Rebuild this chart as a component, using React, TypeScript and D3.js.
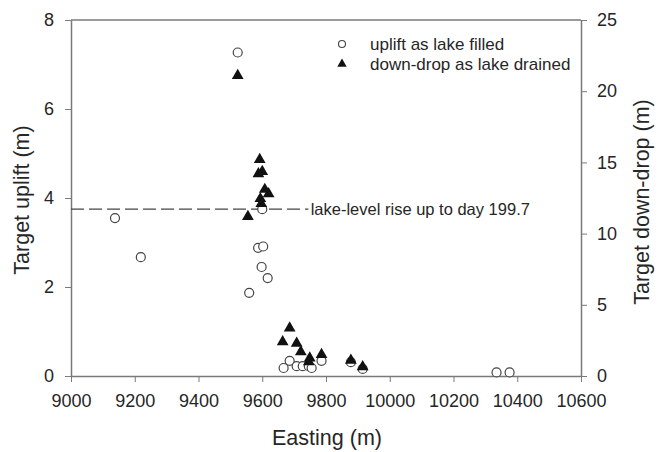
import React, { useEffect, useRef } from "react";
import * as d3 from "d3";

// easting (m) and uplift (m) for the open circles
const upliftEasting = [9138, 9219, 9523, 9600, 9587, 9603, 9598, 9617, 9559, 9667, 9686, 9708, 9727, 9746, 9755, 9786, 9878, 9915, 10335, 10376];
const upliftValue = [3.55, 2.67, 7.27, 3.75, 2.88, 2.91, 2.45, 2.2, 1.87, 0.18, 0.34, 0.22, 0.22, 0.22, 0.18, 0.34, 0.31, 0.16, 0.08, 0.08];

// easting (m) and down-drop (m) for the filled triangles
const dropEasting = [9523, 9592, 9588, 9600, 9608, 9620, 9594, 9597, 9555, 9686, 9664, 9708, 9721, 9749, 9746, 9786, 9878, 9915];
const dropValue = [21.1, 15.2, 14.2, 14.35, 13.1, 12.8, 12.45, 12.1, 11.2, 3.37, 2.4, 2.3, 1.7, 1.26, 1.0, 1.5, 1.1, 0.65];

const xTicks = [9000, 9200, 9400, 9600, 9800, 10000, 10200, 10400, 10600];
const leftTicks = [0, 2, 4, 6, 8];
const rightTicks = [0, 5, 10, 15, 20, 25];

const lakeLevel = 3.75;
const lakeLabel = "lake-level rise up to day 199.7";
const legendLabels = ["uplift as lake filled", "down-drop as lake drained"];

const width = 658;
const height = 452;
const margin = { top: 20, right: 77, bottom: 76, left: 71 };
const font = "'Liberation Sans', Arial, sans-serif";
const textColor = "#262626";
const axisColor = "#7a7a7a";

export default function App() {
  const svgRef = useRef<SVGSVGElement>(null);

  useEffect(() => {
    const svg = d3.select(svgRef.current);
    svg.selectAll("*").remove();

    const x = d3.scaleLinear().domain([9000, 10600]).range([margin.left, width - margin.right]);
    const yL = d3.scaleLinear().domain([0, 8]).range([height - margin.bottom, margin.top]);
    const yR = d3.scaleLinear().domain([0, 25]).range([height - margin.bottom, margin.top]);

    const styleAxis = (g) => {
      g.select(".domain").attr("stroke", axisColor).attr("stroke-width", 1.5);
      g.selectAll(".tick line").attr("stroke", axisColor).attr("stroke-width", 1);
      g.selectAll(".tick text")
        .attr("fill", textColor)
        .style("font-family", font)
        .style("font-size", "18px");
    };

    // frame top
    svg
      .append("line")
      .attr("x1", x(9000))
      .attr("x2", x(10600))
      .attr("y1", yL(8))
      .attr("y2", yL(8))
      .attr("stroke", axisColor)
      .attr("stroke-width", 1.5);

    svg
      .append("g")
      .attr("transform", `translate(0, ${yL(0)})`)
      .call(d3.axisBottom(x).tickValues(xTicks).tickSize(6).tickSizeOuter(0).tickPadding(12).tickFormat(d3.format("d")))
      .call(styleAxis);

    svg
      .append("g")
      .attr("transform", `translate(${x(9000)}, 0)`)
      .call(d3.axisLeft(yL).tickValues(leftTicks).tickSize(6).tickSizeOuter(0).tickPadding(11))
      .call(styleAxis);

    svg
      .append("g")
      .attr("transform", `translate(${x(10600)}, 0)`)
      .call(d3.axisRight(yR).tickValues(rightTicks).tickSize(6).tickSizeOuter(0).tickPadding(10))
      .call(styleAxis);

    // lake level dashed line
    svg
      .append("line")
      .attr("x1", x(9000))
      .attr("x2", x(9745))
      .attr("y1", yL(lakeLevel))
      .attr("y2", yL(lakeLevel))
      .attr("stroke", "#444")
      .attr("stroke-width", 1.4)
      .attr("stroke-dasharray", "13,5");

    svg
      .append("text")
      .attr("x", x(9752))
      .attr("y", yL(lakeLevel))
      .attr("dy", "0.35em")
      .attr("fill", textColor)
      .style("font-family", font)
      .style("font-size", "16.5px")
      .text(lakeLabel);

    // uplift circles
    const upliftData = upliftEasting.map((e, i) => ({ e, v: upliftValue[i] }));
    svg
      .selectAll(".up")
      .data(upliftData)
      .enter()
      .append("circle")
      .attr("class", "up")
      .attr("cx", (d) => x(d.e))
      .attr("cy", (d) => yL(d.v))
      .attr("r", 4.5)
      .attr("fill", "white")
      .attr("stroke", "#444")
      .attr("stroke-width", 1.2);

    // down-drop triangles
    const tri = d3.symbol().type(d3.symbolTriangle).size(60);
    const dropData = dropEasting.map((e, i) => ({ e, v: dropValue[i] }));
    svg
      .selectAll(".down")
      .data(dropData)
      .enter()
      .append("path")
      .attr("class", "down")
      .attr("d", tri)
      .attr("transform", (d) => `translate(${x(d.e)}, ${yR(d.v)})`)
      .attr("fill", "#111");

    // legend
    const legend = svg.append("g").attr("transform", "translate(342, 44)");
    legend
      .append("circle")
      .attr("cx", 0)
      .attr("cy", 0)
      .attr("r", 3.5)
      .attr("fill", "white")
      .attr("stroke", "#444")
      .attr("stroke-width", 1.1);
    legend
      .append("path")
      .attr("d", d3.symbol().type(d3.symbolTriangle).size(38)())
      .attr("transform", "translate(0, 20)")
      .attr("fill", "#111");
    legendLabels.forEach((t, i) => {
      legend
        .append("text")
        .attr("x", 28)
        .attr("y", i * 20)
        .attr("dy", "0.35em")
        .attr("fill", textColor)
        .style("font-family", font)
        .style("font-size", "17px")
        .text(t);
    });

    // axis titles
    svg
      .append("text")
      .attr("x", (x(9000) + x(10600)) / 2 + 1)
      .attr("y", 445)
      .attr("text-anchor", "middle")
      .attr("fill", textColor)
      .style("font-family", font)
      .style("font-size", "21.5px")
      .text("Easting (m)");

    svg
      .append("text")
      .attr("transform", `translate(29, ${(yL(0) + yL(8)) / 2 + 2}) rotate(-90)`)
      .attr("text-anchor", "middle")
      .attr("fill", textColor)
      .style("font-family", font)
      .style("font-size", "21.5px")
      .text("Target uplift (m)");

    svg
      .append("text")
      .attr("transform", `translate(649, ${(yL(0) + yL(8)) / 2 + 4}) rotate(-90)`)
      .attr("text-anchor", "middle")
      .attr("fill", textColor)
      .style("font-family", font)
      .style("font-size", "21.5px")
      .text("Target down-drop (m)");
  }, []);

  return (
    <svg
      ref={svgRef}
      width={width}
      height={height}
      style={{ position: "absolute", left: 0, top: 0, background: "white" }}
    />
  );
}
